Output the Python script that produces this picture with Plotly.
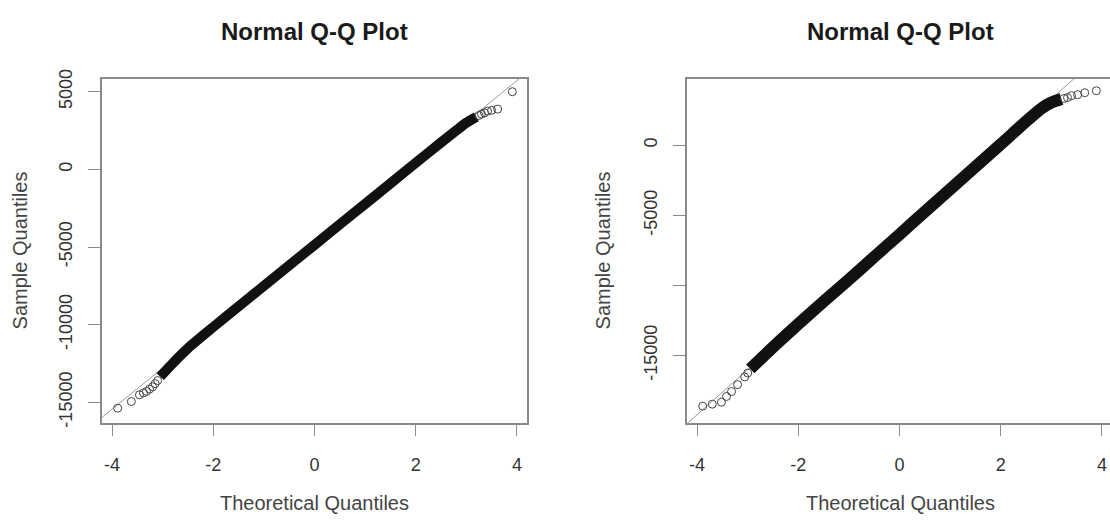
import plotly.graph_objects as go

# ---- Left panel: normal Q-Q of the first sample ----
left_band_x = [-3.05, -2.8, -2.5, -2.0, -1.5, -1.0, -0.5, 0.0, 0.5, 1.0, 1.5, 2.0, 2.5, 2.8, 3.0, 3.2]
left_band_y = [-13350, -12480, -11520, -10150, -8820, -7500, -6180, -4870, -3550, -2230, -910, 420, 1730, 2500, 3000, 3380]
left_tail_x = [-3.89, -3.62, -3.46, -3.38, -3.32, -3.26, -3.20, -3.15, -3.10, 3.25, 3.30, 3.36, 3.42, 3.50, 3.62, 3.91]
left_tail_y = [-15380, -14950, -14520, -14400, -14300, -14150, -14000, -13800, -13600, 3470, 3560, 3640, 3750, 3800, 3880, 5000]
left_ref_x = [-4.2, 4.2]
left_ref_y = [-15967, 6243]
left_yticks = [-15000, -10000, -5000, 0, 5000]
left_yticktext = ["-15000", "-10000", "-5000", "0", "5000"]

# ---- Right panel: normal Q-Q of the second sample ----
right_band_x = [-2.95, -2.7, -2.5, -2.0, -1.5, -1.0, -0.5, 0.0, 0.5, 1.0, 1.5, 2.0, 2.5, 2.8, 3.0, 3.2]
right_band_y = [-15950, -15100, -14400, -12750, -11150, -9580, -7960, -6360, -4740, -3130, -1540, 70, 1700, 2620, 3050, 3300]
right_tail_x = [-3.89, -3.70, -3.52, -3.42, -3.32, -3.20, -3.06, -3.0, 3.25, 3.32, 3.40, 3.52, 3.66, 3.89]
right_tail_y = [-18610, -18470, -18330, -17920, -17570, -17080, -16530, -16250, 3340, 3400, 3540, 3610, 3750, 3890]
right_ref_x = [-4.2, 4.2]
right_ref_y = [-19868, 7172]
right_yticks = [-15000, -10000, -5000, 0]
right_yticktext = ["-15000", "", "-5000", "0"]

x_ticks = [-4, -2, 0, 2, 4]
x_ticktext = ["-4", "-2", "0", "2", "4"]

W, H = 1110, 524
FONT = "Liberation Sans, Arial, Helvetica, sans-serif"
BOX = "#8a8a8a"

fig = go.Figure()

def add_panel(bx, by, tx, ty, rx, ry, xa, ya, band_w):
    # reference line, dense body of the sample, then the sparse tail points
    fig.add_trace(go.Scatter(x=rx, y=ry, mode="lines", xaxis=xa, yaxis=ya,
                             line=dict(color="#9a9a9a", width=1), hoverinfo="skip"))
    fig.add_trace(go.Scatter(x=bx, y=by, mode="lines", xaxis=xa, yaxis=ya,
                             line=dict(color="#111111", width=band_w, shape="spline", smoothing=0.6),
                             hoverinfo="skip"))
    fig.add_trace(go.Scatter(x=tx, y=ty, mode="markers", xaxis=xa, yaxis=ya, cliponaxis=False,
                             marker=dict(symbol="circle-open", size=8,
                                         color="#444444", line=dict(width=1, color="#444444"))))

add_panel(left_band_x, left_band_y, left_tail_x, left_tail_y, left_ref_x, left_ref_y, "x", "y", 10)
add_panel(right_band_x, right_band_y, right_tail_x, right_tail_y, right_ref_x, right_ref_y, "x2", "y2", 12)

ydom = [1 - 424 / H, 1 - 71 / H]
common_x = dict(tickvals=x_ticks, ticktext=x_ticktext, ticks="outside", ticklen=12,
                tickcolor=BOX, tickwidth=1, showline=True, linecolor=BOX, linewidth=1.5,
                mirror=True, showgrid=False, zeroline=False,
                tickfont=dict(family=FONT, size=18, color="#333"), ticklabelstandoff=13)
common_y = dict(ticks="outside", ticklen=12, tickcolor=BOX, tickwidth=1, showline=True,
                linecolor=BOX, linewidth=1.5, showgrid=False, zeroline=False, tickangle=-90,
                tickfont=dict(family=FONT, size=18, color="#333"), ticklabelstandoff=9)

fig.update_layout(
    width=W, height=H, margin=dict(l=0, r=0, t=0, b=0),
    paper_bgcolor="white", plot_bgcolor="white", showlegend=False,
    xaxis=dict(domain=[102 / W, 527 / W], range=[-4.2, 4.2], anchor="y", **common_x),
    yaxis=dict(domain=ydom, range=[-16312, 5812], anchor="x", mirror=True,
               tickvals=left_yticks, ticktext=left_yticktext, **common_y),
    xaxis2=dict(domain=[687 / W, 1.0], range=[-4.2, -4.2 + (W - 687) / 50.6], anchor="y2", **common_x),
    yaxis2=dict(domain=ydom, range=[-19792, 4722], anchor="x2", mirror=False,
                tickvals=right_yticks, ticktext=right_yticktext, **common_y),
)

def txt(text, x, y, size, bold=False, angle=0, color="#333"):
    fig.add_annotation(text=f"<b>{text}</b>" if bold else text, x=x / W, y=1 - y / H,
                       xref="paper", yref="paper", showarrow=False, textangle=angle,
                       xanchor="center", yanchor="middle",
                       font=dict(family=FONT, size=size, color=color))

for cx, ylab_x in [(314.5, 20), (900, 603)]:
    txt("Normal Q-Q Plot", cx, 22, 24, bold=True, color="#1a1a1a")
    txt("Theoretical Quantiles", cx, 507, 20, color="#444")
    txt("Sample Quantiles", ylab_x, 247, 20, angle=-90, color="#444")

fig.write_html("out.html")
